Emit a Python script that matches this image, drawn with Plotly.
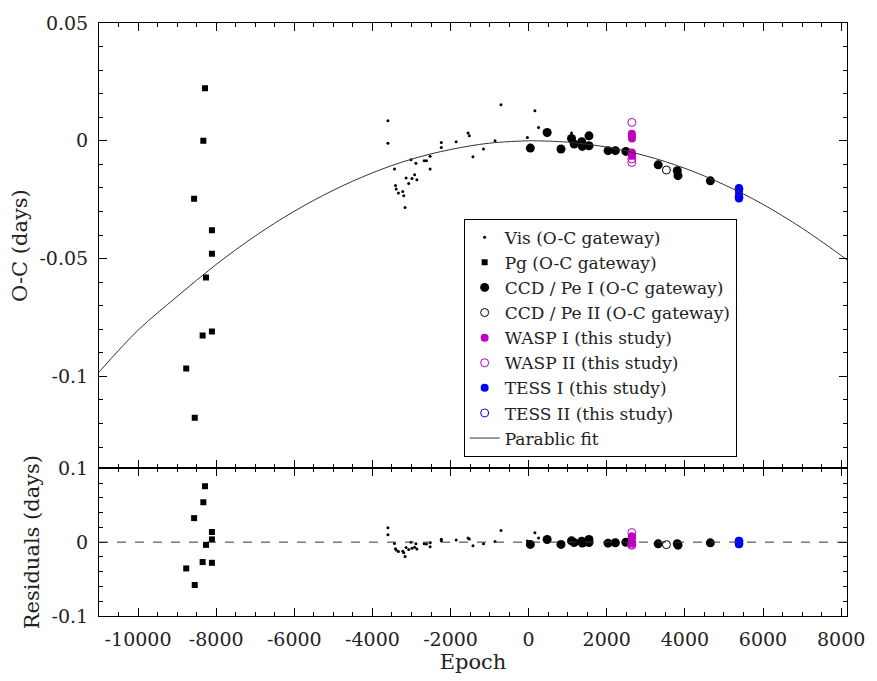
import plotly.graph_objects as go
from plotly.subplots import make_subplots

# ---------------- data ----------------
vis_epoch = [-3603, -3603, -709, 160, 253, -33, -1552, -1519, -2236, -2236, -1856, -1156, -861,
             -1426, -2523, -2523, -2675, -2616, -2886, -3013, -3435, -3139, -2987, -2919, -2861,
             -3071, -3410, -3392, -3334, -3223, -3198, -3165, 1097]
vis_oc = [0.0085, -0.001, 0.0153, 0.0127, 0.0056, 0.0014, 0.0033, 0.0021, -0.0007, -0.0028, -0.0004,
          -0.0035, 0.0, -0.0068, -0.0066, -0.012, -0.0085, -0.0085, -0.0095, -0.008, -0.012, -0.0158,
          -0.016, -0.0144, -0.0165, -0.0181, -0.019, -0.0205, -0.0222, -0.0215, -0.0233, -0.0283, 0.0033]
vis_res = [0.0196, 0.0101, 0.0159, 0.0127, 0.0056, 0.0014, 0.0056, 0.0043, 0.0038, 0.0017, 0.0028,
           -0.0022, 0.0008, -0.0048, -0.0010, -0.0064, -0.0022, -0.0025, -0.0022, -0.0001, -0.0018,
           -0.0073, -0.0082, -0.0070, -0.0093, -0.0099, -0.0090, -0.0106, -0.0126, -0.0125, -0.0144,
           -0.0196, 0.0040]

pg_epoch = [-8286, -8329, -8565, -8109, -8109, -8261, -8347, -8109, -8767, -8549]
pg_oc = [0.0223, 0.0, -0.0246, -0.038, -0.048, -0.058, -0.0827, -0.081, -0.0967, -0.1176]
pg_res = [0.0758, 0.054, 0.0325, 0.0137, 0.0037, -0.0037, -0.027, -0.028, -0.0356, -0.058]

ccd1_epoch = [43, 473, 828, 1097, 1165, 1359, 1375, 1544, 1544, 2033, 2220, 2489, 3316, 3805, 3823, 4651]
ccd1_oc = [-0.0031, 0.0035, -0.0035, 0.001, -0.0014, -0.0004, -0.0024, 0.0021, -0.0021, -0.0042,
           -0.0042, -0.0045, -0.0102, -0.0127, -0.0148, -0.017]
ccd1_res = [-0.0031, 0.0036, -0.0031, 0.0017, -0.0006, 0.0012, -0.0012, 0.0036, -0.0006, -0.0014,
            -0.0008, -0.0002, -0.0023, -0.0021, -0.0041, -0.0010]

ccd2_epoch = [3527]
ccd2_oc = [-0.0124]
ccd2_res = [-0.0034]

wasp1_epoch = [2641, 2641, 2645, 2641, 2638, 2643, 2641]
wasp1_oc = [0.003, 0.002, 0.001, -0.005, -0.0055, -0.006, -0.0064]
wasp1_res = [0.0079, 0.0069, 0.0059, -0.0001, -0.0006, -0.0011, -0.0015]

wasp2_epoch = [2641, 2641, 2641]
wasp2_oc = [0.0078, -0.0077, -0.0092]
wasp2_res = [0.0130, -0.0028, -0.0043]

tess1_epoch = [5385, 5385, 5385, 5385]
tess1_oc = [-0.020, -0.0215, -0.023, -0.0245]
tess1_res = [0.0017, 0.0002, -0.0013, -0.0028]

tess2_epoch = [5385, 5385]
tess2_oc = [-0.0205, -0.0240]
tess2_res = [0.0012, -0.0023]

fit_epoch = [-11000, -10000, -9000, -8000, -7000, -6000, -5000, -4000, -3000, -2000, -1000,
             0, 150, 1000, 2000, 3000, 4000, 5000, 6000, 7000, 8000, 8150]
fit_oc = [-0.0982, -0.0804, -0.0661, -0.0525, -0.0404, -0.0299, -0.0210, -0.0136, -0.0078,
          -0.0037, -0.0010, 0.0, 0.0, -0.0006, -0.0027, -0.0064, -0.0117, -0.0186, -0.0270,
          -0.0371, -0.0487, -0.0506]

x_ticks = [-10000, -8000, -6000, -4000, -2000, 0, 2000, 4000, 6000, 8000]
x_ticktext = ["-10000", "-8000", "-6000", "-4000", "-2000", "0", "2000", "4000", "6000", "8000"]
oc_ticks = [-0.1, -0.05, 0, 0.05]
oc_ticktext = ["-0.1", "-0.05", "0", "0.05"]
res_ticks = [-0.1, 0, 0.1]
res_ticktext = ["-0.1", "0", "0.1"]

# ---------------- figure ----------------
FONT = "'DejaVu Serif', 'Liberation Serif', serif"
TXT = "#222222"
MAG = "#C000C0"
BLUE = "#0000FF"

fig = make_subplots(rows=2, cols=1, shared_xaxes=True, vertical_spacing=0,
                    row_heights=[446, 148])

def add(ep, oc, res, name, symbol, size, color, open_=False):
    mk = dict(symbol=symbol, size=size, color=color,
              line=dict(color=color, width=1 if open_ else 0))
    fig.add_trace(go.Scatter(x=ep, y=oc, mode="markers", name=name, marker=mk,
                             legendgroup=name), row=1, col=1)
    fig.add_trace(go.Scatter(x=ep, y=res, mode="markers", name=name, marker=mk,
                             legendgroup=name, showlegend=False), row=2, col=1)

add(vis_epoch, vis_oc, vis_res, "Vis (O-C gateway)", "circle", 3, "black")
add(pg_epoch, pg_oc, pg_res, "Pg (O-C gateway)", "square", 6, "black")
add(ccd1_epoch, ccd1_oc, ccd1_res, "CCD / Pe I (O-C gateway)", "circle", 9, "black")
add(ccd2_epoch, ccd2_oc, ccd2_res, "CCD / Pe II (O-C gateway)", "circle-open", 8, "black", True)
add(wasp1_epoch, wasp1_oc, wasp1_res, "WASP I (this study)", "circle", 8, MAG)
add(wasp2_epoch, wasp2_oc, wasp2_res, "WASP II (this study)", "circle-open", 8, MAG, True)
add(tess1_epoch, tess1_oc, tess1_res, "TESS I (this study)", "circle", 8, BLUE)
add(tess2_epoch, tess2_oc, tess2_res, "TESS II (this study)", "circle-open", 8, BLUE, True)

fig.add_trace(go.Scatter(x=fit_epoch, y=fit_oc, mode="lines", name="Parablic fit",
                         line=dict(color="#333333", width=1, shape="spline")), row=1, col=1)

fig.add_hline(y=0, line=dict(color="#333333", width=1, dash="dash"), row=2, col=1)

axis_common = dict(showline=True, linecolor="black", linewidth=1, mirror="ticks",
                   ticks="inside", ticklen=8, tickcolor="black", tickwidth=1,
                   showgrid=False, zeroline=False,
                   tickfont=dict(family=FONT, size=19, color=TXT))

fig.update_xaxes(**axis_common, range=[-11000, 8150], tickmode="array",
                 tickvals=x_ticks, ticktext=x_ticktext,
                 minor=dict(dtick=500, tick0=0, ticks="inside", ticklen=4,
                            tickcolor="black", showgrid=False))
fig.update_xaxes(showticklabels=False, row=1, col=1)
fig.update_xaxes(title=dict(text="Epoch", font=dict(family=FONT, size=21, color=TXT),
                            standoff=4), ticklabelstandoff=6, row=2, col=1)

fig.update_yaxes(**axis_common)
fig.update_yaxes(range=[-0.139, 0.05], tickmode="array", tickvals=oc_ticks,
                 ticktext=oc_ticktext,
                 minor=dict(dtick=0.01, tick0=0, ticks="inside", ticklen=4,
                            tickcolor="black", showgrid=False),
                 title=dict(text="O-C (days)", font=dict(family=FONT, size=21, color=TXT),
                            standoff=6),
                 ticklabelstandoff=6, row=1, col=1)
fig.update_yaxes(range=[-0.1, 0.1], tickmode="array", tickvals=res_ticks,
                 ticktext=res_ticktext,
                 minor=dict(dtick=0.02, tick0=0, ticks="inside", ticklen=4,
                            tickcolor="black", showgrid=False),
                 title=dict(text="Residuals (days)", font=dict(family=FONT, size=21, color=TXT),
                            standoff=6),
                 ticklabelstandoff=6, row=2, col=1)

fig.update_layout(
    width=877, height=681,
    margin=dict(l=99, r=21, t=22, b=65),
    paper_bgcolor="white", plot_bgcolor="white",
    font=dict(family=FONT, size=18, color=TXT),
    showlegend=True,
    legend=dict(x=0.4875, y=0.670, xanchor="left", yanchor="top",
                bgcolor="white", bordercolor="black", borderwidth=1,
                font=dict(family=FONT, size=17, color=TXT),
                itemsizing="trace", tracegroupgap=0),
)

fig.write_html("out.html")
